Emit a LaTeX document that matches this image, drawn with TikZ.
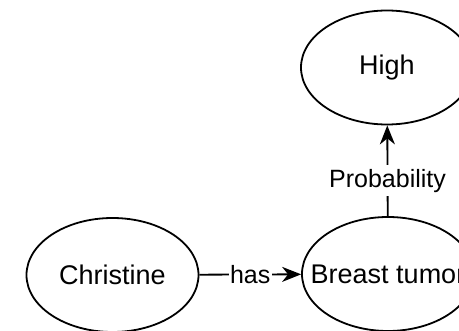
\documentclass[tikz,border=0pt]{standalone}
\usepackage{fontspec}
\setmainfont{Liberation Sans}
\usetikzlibrary{shapes.geometric,arrows.meta}
\begin{document}
\begin{tikzpicture}[x=1pt,y=-1pt,
  concept/.style={ellipse,draw,line width=1.8pt,minimum width=172pt,minimum height=114pt,
    inner sep=0pt,label={[font=\fontsize{27}{32}\selectfont]center:#1}},
  relation/.style={line width=1.8pt,-{Stealth[length=19pt,width=15pt,inset=6pt]}},
  rellabel/.style={fill=white,inner sep=1.5pt,font=\fontsize{25}{30}\selectfont}]
\useasboundingbox (0,0) rectangle (459,331);
\clip (0,0) rectangle (459,331);
\node[concept=High] (high) at (387,67.5) {};
\node[concept=Breast tumor] (tumor) at (388,274) {};
\node[concept=Christine] (christine) at (112.5,275) {};
\draw[relation] (christine) -- node[rellabel] {has} (tumor);
\draw[relation] (tumor) -- node[rellabel,pos=0.39,inner ysep=4pt] {Probability} (high);
\end{tikzpicture}
\end{document}
